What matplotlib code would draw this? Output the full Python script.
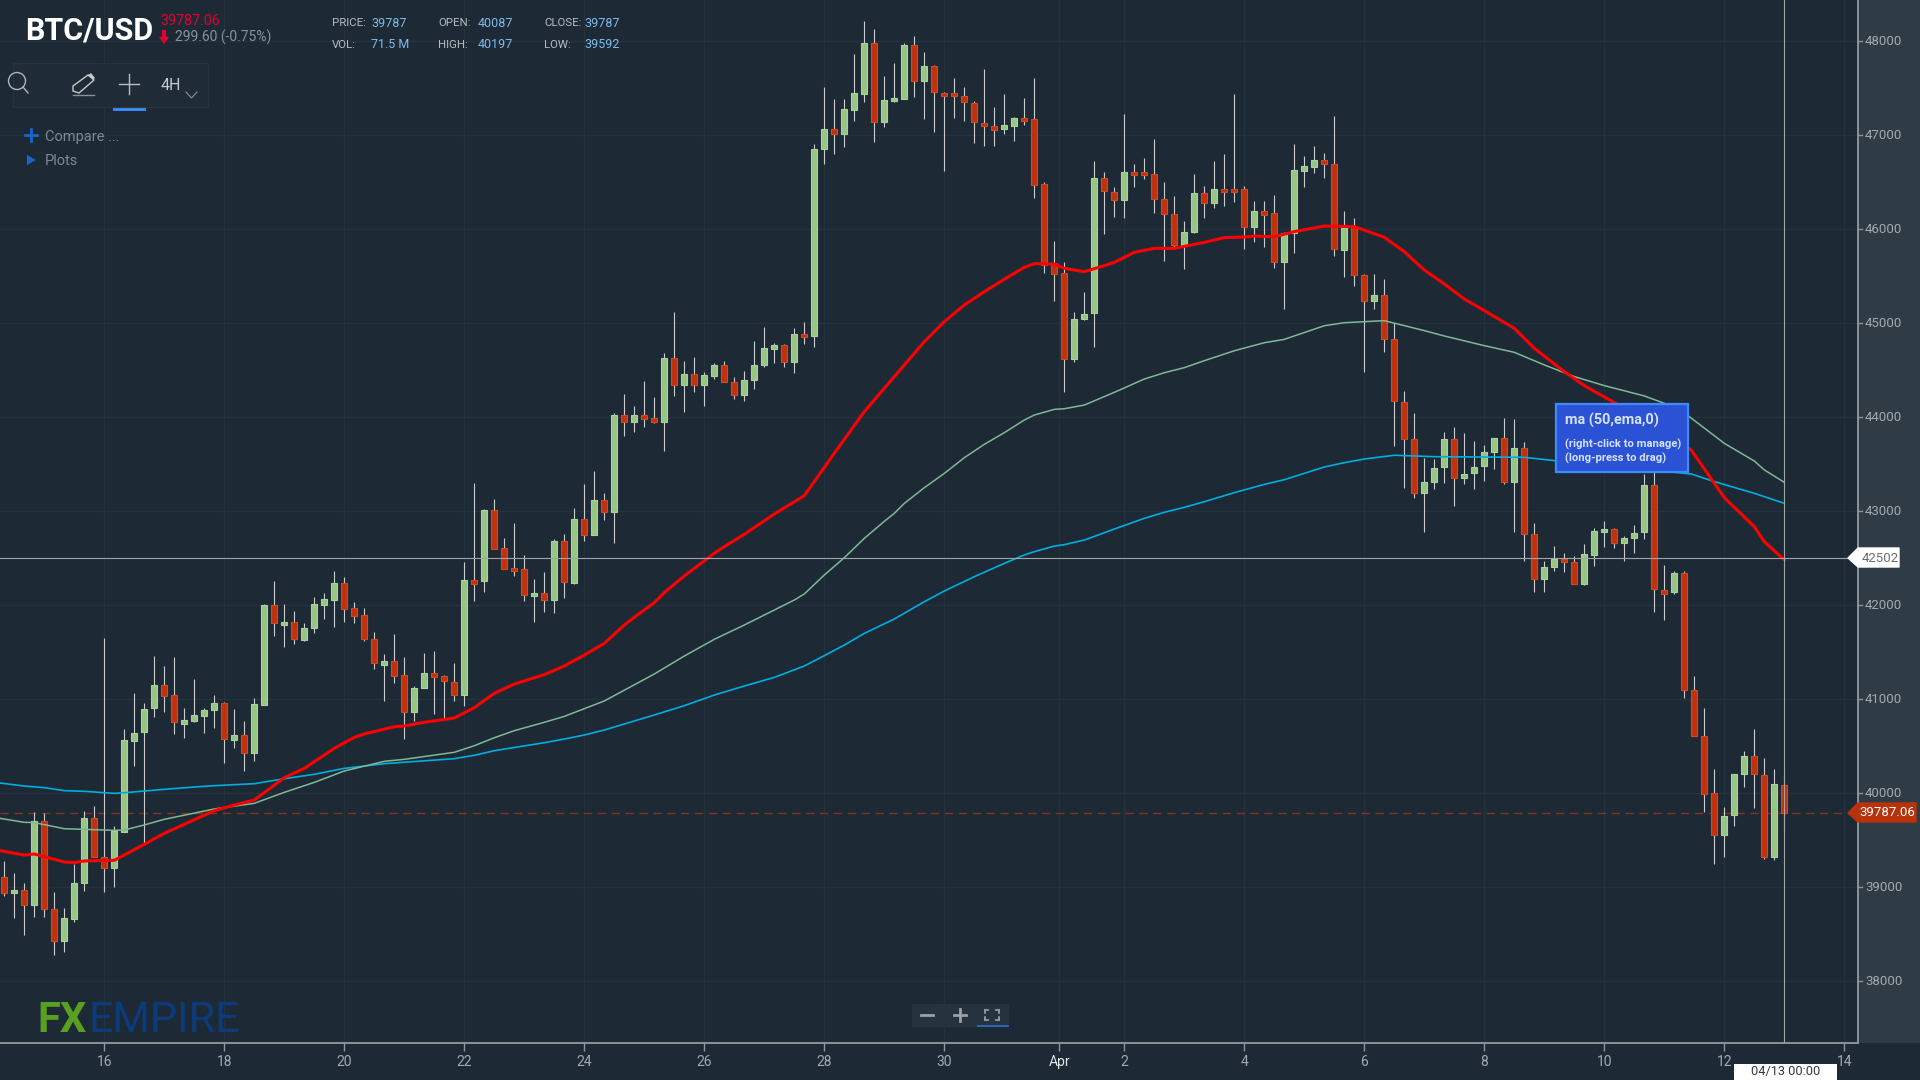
"""BTC/USD 4H candlestick chart with moving averages, FXEmpire dark style."""

import matplotlib

matplotlib.use("Agg")
import matplotlib.pyplot as plt
from matplotlib.patches import Circle, Polygon, Rectangle

opens = [
    39110, 38933, 38968, 38812, 39698, 38762, 38429, 38663, 39039, 39737,
    39323, 39198, 39585, 40557, 40649, 40901, 41145, 41039, 40737, 40769,
    40823, 40887, 40961, 40567, 40613, 40422, 40940, 41997, 41791, 41823,
    41631, 41752, 42004, 42057, 42238, 41972, 41890, 41635, 41365, 41400,
    41252, 40858, 41113, 41280, 41241, 41184, 41046, 42266, 42256, 43007,
    42610, 42398, 42380, 42096, 42131, 42057, 42678, 42238, 42915, 42749,
    43114, 42986, 44018, 43944, 44018, 43993, 43944, 44632, 44344, 44458,
    44344, 44436, 44550, 44376, 44238, 44397, 44557, 44727, 44763, 44585,
    44883, 44862, 46854, 47064, 47014, 47269, 47440, 47982, 47135, 47362,
    47386, 47954, 47578, 47730, 47450, 47450, 47411, 47344, 47131, 47092,
    47067, 47096, 47184, 47167, 46475, 45635, 45535, 44620, 45040, 45103,
    46546, 46397, 46312, 46610, 46610, 46585, 46315, 46156, 45830, 45964,
    46386, 46273, 46422, 46422, 46422, 46018, 46188, 46174, 45645, 45961,
    46617, 46660, 46734, 46692, 45780, 46036, 45508, 45238, 45295, 44830,
    44164, 43763, 43188, 43313, 43465, 43763, 43348, 43401, 43483, 43625,
    43781, 43306, 43674, 42752, 42281, 42408, 42486, 42462, 42228, 42536,
    42774, 42805, 42657, 42709, 42774, 43274, 42157, 42135, 42344, 41091,
    40604, 40003, 39549, 39762, 40197, 40392, 40194, 39322, 40087,
]
highs = [
    39280, 39145, 39039, 39798, 39784, 38943, 38773, 39245, 39812, 39865,
    41649, 39649, 40677, 41060, 40954, 41461, 41354, 41447, 40901, 41209,
    40901, 41046, 40971, 40890, 40769, 41010, 42007, 42256, 42007, 41940,
    41805, 42085, 42124, 42365, 42295, 42032, 41965, 41709, 41475, 41688,
    41447, 41138, 41486, 41514, 41255, 41379, 42454, 43295, 43018, 43124,
    42710, 42869, 42536, 42273, 42351, 42699, 42752, 43029, 43284, 43426,
    43188, 44039, 44241, 44117, 44383, 44213, 44678, 45114, 44600, 44639,
    44479, 44571, 44600, 44422, 44493, 44809, 44954, 44784, 44773, 44944,
    45007, 46901, 47507, 47379, 47379, 47858, 48213, 48124, 47628, 47762,
    47975, 48057, 47883, 47741, 47461, 47603, 47507, 47362, 47698, 47294,
    47432, 47195, 47390, 47603, 46496, 45872, 45645, 45113, 45326, 46723,
    46603, 46443, 47220, 46688, 46752, 46954, 46496, 46354, 46088, 46581,
    46457, 46723, 46794, 47432, 46457, 46301, 46301, 46365, 45972, 46901,
    46776, 46883, 46805, 47200, 46195, 46114, 45518, 45518, 45465, 45000,
    44281, 44040, 43561, 43550, 43837, 43891, 43827, 43745, 43703, 43781,
    43986, 43976, 43738, 42869, 42472, 42632, 42550, 42522, 42646, 42816,
    42894, 42816, 42735, 42855, 43391, 43420, 42428, 42362, 42362, 41249,
    40904, 40252, 39853, 40205, 40450, 40677, 40373, 40252, 40197,
]
lows = [
    38904, 38670, 38486, 38684, 38684, 38273, 38312, 38631, 38961, 39316,
    38950, 39003, 39585, 40291, 39472, 40812, 40865, 40624, 40585, 40759,
    40635, 40691, 40315, 40475, 40237, 40340, 40940, 41674, 41557, 41581,
    41620, 41698, 41848, 41770, 41823, 41805, 41620, 41315, 40982, 41170,
    40571, 40769, 41113, 40837, 40794, 40982, 40929, 42046, 42142, 42600,
    42387, 42312, 42047, 41823, 41929, 41918, 42075, 42220, 42685, 42749,
    42908, 42660, 43802, 43844, 43894, 43933, 43642, 44227, 44057, 44266,
    44121, 44401, 44369, 44188, 44174, 44295, 44536, 44571, 44536, 44472,
    44773, 44748, 46688, 46794, 46876, 47152, 47351, 46929, 47089, 47354,
    47383, 47404, 47167, 47035, 46620, 47181, 47152, 46911, 46886, 46886,
    47007, 46940, 47110, 46330, 45528, 45237, 44269, 44589, 45032, 44748,
    45943, 46131, 46120, 46450, 46528, 46174, 45663, 45812, 45571, 45954,
    46117, 46223, 46248, 46290, 45784, 45862, 45812, 45585, 45145, 45745,
    46450, 46592, 46539, 45717, 45493, 45398, 44483, 45146, 44696, 43696,
    43242, 43135, 42781, 43231, 43302, 43057, 43288, 43231, 43323, 43444,
    43284, 42781, 42472, 42142, 42142, 42366, 42355, 42220, 42213, 42419,
    42621, 42607, 42472, 42550, 42699, 41930, 41839, 42117, 41014, 40604,
    39798, 39241, 39322, 39652, 40069, 39842, 39300, 39285, 39592,
]
closes = [
    38933, 38968, 38812, 39698, 38762, 38429, 38670, 39046, 39737, 39316,
    39198, 39592, 40564, 40642, 40890, 41145, 41035, 40755, 40773, 40826,
    40879, 40961, 40571, 40613, 40422, 40943, 41997, 41805, 41823, 41635,
    41755, 42011, 42060, 42238, 41961, 41887, 41642, 41379, 41400, 41248,
    40862, 41117, 41280, 41230, 41195, 41046, 42266, 42227, 43007, 42600,
    42387, 42362, 42110, 42131, 42057, 42678, 42245, 42915, 42749, 43114,
    42986, 44018, 43944, 44018, 43983, 43944, 44632, 44344, 44458, 44344,
    44444, 44550, 44369, 44238, 44390, 44550, 44738, 44763, 44585, 44883,
    44848, 46854, 47064, 47014, 47273, 47450, 47982, 47135, 47369, 47397,
    47954, 47578, 47730, 47457, 47418, 47418, 47347, 47135, 47099, 47057,
    47103, 47184, 47152, 46472, 45617, 45525, 44620, 45039, 45096, 46546,
    46408, 46312, 46610, 46578, 46578, 46315, 46156, 45830, 45972, 46386,
    46273, 46422, 46390, 46390, 46018, 46188, 46152, 45645, 45961, 46624,
    46667, 46730, 46695, 45784, 46032, 45511, 45238, 45295, 44834, 44174,
    43763, 43188, 43313, 43462, 43763, 43348, 43394, 43472, 43632, 43781,
    43306, 43674, 42752, 42281, 42408, 42493, 42458, 42228, 42543, 42784,
    42809, 42657, 42713, 42770, 43274, 42167, 42121, 42344, 41091, 40611,
    39992, 39549, 39754, 40205, 40392, 40197, 39322, 40095, 39787,
]

red_idx = [
    -0.4, 2, 3, 6, 7, 8, 11, 14, 16, 21, 23, 25, 28, 30, 33, 35, 36, 39, 40, 42,
    45, 47, 49, 51, 54, 56, 58, 60, 62, 63, 65, 66, 68, 71, 72, 74, 77, 80, 83,
    86, 87, 89, 90, 92, 94, 96, 98, 100, 102, 103, 105, 106, 108, 110, 111, 113,
    115, 117, 120, 122, 124, 125, 127, 129, 132, 135, 138, 140, 142, 144, 146,
    148, 151, 153, 156, 158, 161, 168.7, 171, 172, 175, 176, 178,
]
red_ma = [
    39386, 39340, 39351, 39266, 39259, 39277, 39284, 39454, 39571, 39812, 39872,
    39925, 40163, 40262, 40475, 40592, 40628, 40705, 40713, 40752, 40798, 40908,
    41060, 41159, 41259, 41351, 41468, 41592, 41787, 41869, 42025, 42132, 42309,
    42550, 42621, 42752, 42968, 43163, 43614, 44057, 44181, 44429, 44553, 44801,
    45014, 45191, 45333, 45465, 45592, 45631, 45628, 45581, 45546, 45610, 45645,
    45752, 45794, 45794, 45858, 45908, 45915, 45925, 45918, 45972, 46032, 46025,
    45912, 45759, 45564, 45415, 45256, 45132, 44944, 44731, 44483, 44334, 44153,
    43649, 43295, 43142, 42834, 42674, 42479,
]
green_idx = [
    -0.4, 2, 3, 6, 8, 11, 12, 14, 16, 21, 25, 28, 31, 34, 38, 40, 45, 47, 49, 51,
    54, 56, 58, 60, 65, 68, 71, 74, 79, 80, 82, 84, 86, 88, 89, 90, 92, 94, 96,
    98, 100, 102, 103, 105, 106, 108, 111, 114, 116, 118, 120, 123, 126, 128, 132,
    134, 136, 138, 142, 144, 148, 151, 154, 157, 160, 164, 166, 168.5, 172, 175,
    176, 178,
]
green_ma = [
    39730, 39688, 39685, 39620, 39613, 39603, 39606, 39660, 39720, 39830, 39890,
    40007, 40113, 40234, 40337, 40358, 40433, 40503, 40588, 40663, 40752, 40815,
    40897, 40979, 41266, 41457, 41635, 41787, 42053, 42117, 42319, 42503, 42709,
    42890, 42975, 43081, 43248, 43400, 43567, 43709, 43833, 43968, 44021, 44081,
    44088, 44127, 44262, 44404, 44471, 44525, 44599, 44705, 44790, 44826, 44971,
    45003, 45014, 45025, 44919, 44862, 44759, 44688, 44554, 44430, 44334, 44224,
    44146, 44004, 43720, 43532, 43437, 43305,
]
blue_idx = [
    -0.4, 2, 4, 6, 8, 11, 12, 14, 16, 19, 21, 25, 28, 31, 34, 38, 45, 47, 49, 54,
    56, 58, 60, 65, 68, 71, 74, 77, 80, 82, 84, 86, 89, 92, 94, 97, 100, 102,
    103, 105, 106, 108, 111, 114, 116, 118, 120, 123, 126, 128, 132, 134, 136,
    139, 143, 152, 155, 168.7, 171, 175, 178,
]
blue_ma = [
    40106, 40074, 40057, 40025, 40018, 39996, 40003, 40021, 40039, 40064, 40078,
    40099, 40152, 40199, 40262, 40312, 40365, 40401, 40450, 40535, 40574, 40617,
    40670, 40830, 40929, 41042, 41138, 41230, 41351, 41461, 41574, 41698, 41851,
    42035, 42149, 42301, 42443, 42532, 42567, 42627, 42642, 42691, 42808, 42922,
    42986, 43039, 43099, 43195, 43283, 43333, 43468, 43514, 43553, 43593, 43578,
    43571, 43536, 43394, 43313, 43188, 43082,
]

price_ticks = [38000, 39000, 40000, 41000, 42000, 43000, 44000, 45000, 46000, 47000, 48000]
time_ticks = [10, 22, 34, 46, 58, 70, 82, 94, 105.5, 112, 124, 136, 148, 160, 172, 184]
time_labels = ["16", "18", "20", "22", "24", "26", "28", "30", "Apr", "2", "4", "6", "8", "10", "12", "14"]
last_price = 39787.06
cursor_price = 42502
cursor_idx = 178

BG = "#1d2a36"
PANEL = "#2f3b45"
GRID = "#24323e"
AXIS = "#8b9398"
TICK = "#a3aaaf"
UP = "#98c584"
UP_EDGE = "#a9d29c"
DOWN = "#c1310f"
DOWN_EDGE = "#d2481f"
WICK = "#c9cdd0"
CROSS = "#a0a6a8"
FONT = "Roboto"

fig = plt.figure(figsize=(19.2, 10.8), dpi=100, facecolor=BG)
ax = fig.add_axes([0, 37 / 1080, 1858 / 1920, 1043 / 1080], facecolor=BG)
ax.set_xlim(-0.43, 185.37)
ax.set_ylim(37340.4, 48436.2)

ax.grid(True, color=GRID, lw=1.0)
ax.set_axisbelow(True)
ax.set_yticks(price_ticks)
ax.set_yticklabels([])
ax.yaxis.tick_right()
ax.tick_params(axis="y", length=0)
ax.set_xticks(time_ticks)
ax.set_xticklabels(time_labels, color=TICK, fontsize=10, family=FONT)
ax.get_xticklabels()[8].set_color("#e4e7ea")
ax.tick_params(axis="x", length=6, color=AXIS, width=1, pad=2.5)
for side in ("top", "left"):
    ax.spines[side].set_visible(False)
for side in ("right", "bottom"):
    ax.spines[side].set_color(AXIS)
    ax.spines[side].set_linewidth(1.4)

idx = list(range(len(opens)))
ax.vlines(idx, lows, highs, color=WICK, lw=0.8, zorder=3)
for i, o, c in zip(idx, opens, closes):
    up = c >= o
    ax.bar(i, abs(c - o), bottom=min(o, c), width=0.58,
           color=UP if up else DOWN, edgecolor=UP_EDGE if up else DOWN_EDGE,
           linewidth=0.8, zorder=4)

ax.plot(blue_idx, blue_ma, color="#00aee0", lw=1.2, zorder=5)
ax.plot(green_idx, green_ma, color="#7fb896", lw=1.1, zorder=5)
ax.plot(red_idx, red_ma, color="#ff0000", lw=2.2, zorder=6)

ax.axhline(last_price, color="#8b2f1f", lw=1.0, dashes=(6, 4), zorder=2)
ax.axhline(cursor_price, color=CROSS, lw=0.8, zorder=7)
ax.axvline(cursor_idx, color=CROSS, lw=0.8, zorder=7)

# everything that is not data goes on a pixel overlay
ui = fig.add_axes([0, 0, 1, 1], facecolor="none")
ui.set_xlim(0, 1920)
ui.set_ylim(1080, 0)
ui.axis("off")
ui.add_patch(Rectangle((1859, 0), 61, 1043, fc=PANEL, ec="none", zorder=0))
for p in price_ticks:
    ypx = 41 + (48000 - p) * 0.094
    ui.plot([1858, 1862], [ypx, ypx], color=AXIS, lw=1)
    ui.text(1865, ypx + 0.8, str(p), color=TICK, fontsize=9.5, family=FONT, va="center")


def label(x, y, s, color, size, weight="normal"):
    ui.text(x, y, s, color=color, fontsize=size, fontweight=weight,
            family=FONT, ha="left", va="center")


label(25, 30, "BTC/USD", "white", 22, "bold")
label(160, 21, "39787.06", "#e6002d", 10.3)
ui.add_patch(Polygon([(159, 37), (169, 37), (164, 44)], fc="#e6002d", ec="none"))
ui.add_patch(Rectangle((162, 30), 4, 8, fc="#e6002d", ec="none"))
label(175, 37, "299.60 (-0.75%)", "#88929a", 10)

stat_rows = [
    (23.5, [(332, "PRICE:", 371, "39787"), (438, "OPEN:", 478, "40087"), (544, "CLOSE:", 584, "39787")]),
    (44.5, [(332, "VOL:", 371, "71.5 M"), (438, "HIGH:", 478, "40197"), (544, "LOW:", 584, "39592")]),
]
for y, row in stat_rows:
    for lx, name, vx, val in row:
        label(lx, y, name, "#b8bcc0", 8.2)
        label(vx, y, val, "#7ebcea", 9)

# toolbar
ui.add_patch(Rectangle((13, 63), 195, 44, fc="#1f2c38", ec="#27343f", lw=1))
ui.add_patch(Circle((17, 81), 8.5, fc="none", ec="#b0b5b9", lw=1))
ui.plot([23, 28], [87, 93], color="#b0b5b9", lw=1)
ui.add_patch(Polygon([(73, 91), (73, 86), (88, 75), (94, 80), (79, 93)], fc="none", ec="#c4c8cb", lw=1))
ui.add_patch(Polygon([(88, 75), (91, 73), (95, 78), (93, 80)], fc="#c4c8cb", ec="none"))
ui.plot([73, 94], [95, 95], color="#8b9195", lw=1)
ui.plot([119, 139], [84, 84], color="#b8bcc0", lw=1)
ui.plot([129, 129], [74, 94], color="#b8bcc0", lw=1)
ui.add_patch(Rectangle((113, 108), 33, 2.8, fc="#3b88f0", ec="none"))
label(161, 85, "4H", "#c8ccd0", 11.5)
ui.plot([186, 191.5, 197], [92, 98, 92], color="#8b9195", lw=0.8)

ui.plot([25, 37], [135, 135], color="#1f62c8", lw=2)
ui.plot([31, 31], [129, 141], color="#1f62c8", lw=2)
label(45, 137, "Compare ...", "#7d8890", 10.5)
ui.add_patch(Polygon([(27, 155), (27, 165), (36, 160)], fc="#1f62c8", ec="none"))
label(45, 161, "Plots", "#7d8890", 10.5)

# legend tooltip of the moving average
ui.add_patch(Rectangle((1556, 404), 132, 68, fc="#2b52d4", ec="#3b8cff", lw=1.6, zorder=8))
ui.text(1565, 420.5, "ma (50,ema,0)", color="#d4e2ff", fontsize=10.4, fontweight="bold",
        family=FONT, va="center", zorder=9)
ui.text(1565, 444, "(right-click to manage)", color="#d4e2ff", fontsize=8.1, fontweight="bold",
        family=FONT, va="center", zorder=9)
ui.text(1565, 458.5, "(long-press to drag)", color="#d4e2ff", fontsize=8.1, fontweight="bold",
        family=FONT, va="center", zorder=9)

# price tags on the right
ui.add_patch(Polygon([(1848, 558), (1858, 548), (1899, 548), (1899, 567), (1858, 567)],
                     fc="white", ec="white", lw=1, joinstyle="round", zorder=8))
ui.text(1880, 558.5, f"{cursor_price}", color="#666e74", fontsize=9.5, family=FONT,
        ha="center", va="center", zorder=9)
ui.add_patch(Polygon([(1848, 813), (1858, 803), (1916, 803), (1916, 822), (1858, 822)],
                     fc="#b8320c", ec="#b8320c", lw=1, joinstyle="round", zorder=8))
ui.text(1887, 813, f"{last_price:.2f}", color="white", fontsize=9.5, family=FONT,
        ha="center", va="center", zorder=9)
ui.add_patch(Rectangle((1734, 1064), 103, 16, fc="white", ec="none", zorder=8))
ui.text(1786, 1071.5, "04/13 00:00", color="#2f3a46", fontsize=9.2, family=FONT,
        ha="center", va="center", zorder=9)

# logo
label(37, 1021, "FX", "#5aa020", 30, "bold")
label(88, 1021, "EMPIRE", "#0d3a7a", 31)

# zoom buttons
ui.add_patch(Rectangle((912, 1004), 97, 23, fc="#26333f", ec="none"))
ui.plot([921, 933], [1015, 1015], color="#9aa2a8", lw=2)
ui.plot([954, 966], [1015, 1015], color="#9aa2a8", lw=2)
ui.plot([960, 960], [1009, 1021], color="#9aa2a8", lw=2)
for sx, sy in ((985, 1010), (999, 1010), (985, 1020), (999, 1020)):
    ui.plot([sx, sx], [sy, sy + (3 if sy == 1010 else -3)], color="#9aa2a8", lw=1.2)
    ui.plot([sx, sx + (3 if sx == 985 else -3)], [sy, sy], color="#9aa2a8", lw=1.2)
ui.add_patch(Rectangle((977, 1025), 32, 2, fc="#2a66b5", ec="none"))

fig.savefig("out.png", dpi=100, facecolor=BG)
